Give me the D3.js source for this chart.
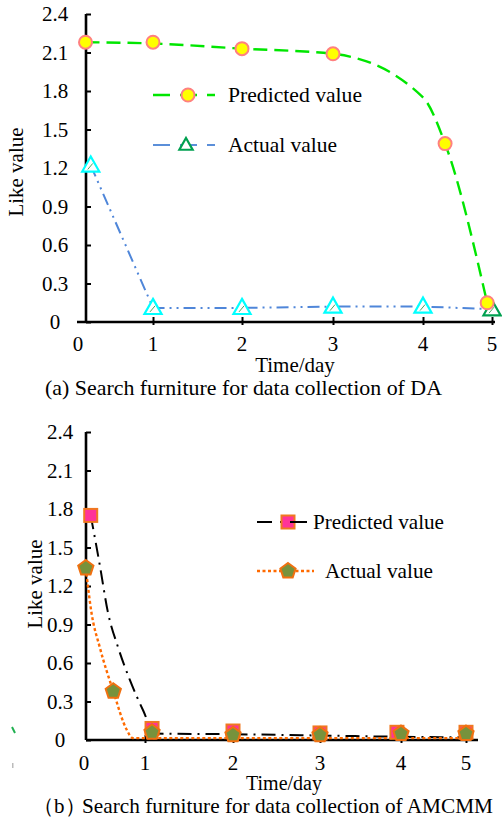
<!DOCTYPE html>
<html><head><meta charset="utf-8">
<script src="https://cdn.jsdelivr.net/npm/d3@7"></script>
<style>html,body{margin:0;padding:0;background:#fff;}svg{display:block;}</style>
</head><body>
<script>
// ---------- data ----------
const dayTicks = [0, 1, 2, 3, 4, 5];
const valueTicks = [0, 0.3, 0.6, 0.9, 1.2, 1.5, 1.8, 2.1, 2.4];
const valueTickLabels = ["0", "0.3", "0.6", "0.9", "1.2", "1.5", "1.8", "2.1", "2.4"];

// (a) DA
const aPredX = [0.1, 1, 2, 3, 4.32, 4.93];
const aPredY = [2.18, 2.18, 2.13, 2.09, 1.39, 0.15];
const aPredLineX = [0.1, 1, 2, 3, 4, 4.32, 4.93];
const aPredLineY = [2.18, 2.17, 2.13, 2.09, 1.75, 1.39, 0.15];
const aActX = [0.17, 1, 2, 3, 4, 5];
const aActY = [1.22, 0.11, 0.11, 0.12, 0.12, 0.1];

// (b) AMCMM
const bPredX = [0.11, 1.08, 2, 3, 3.95, 5];
const bPredY = [1.75, 0.09, 0.07, 0.055, 0.06, 0.06];
const bPredLineX = [0.11, 0.26, 0.39, 0.56, 0.75, 0.97, 1.11, 2, 3, 4, 5];
const bPredLineY = [1.75, 1.36, 1.0, 0.72, 0.47, 0.23, 0.05, 0.045, 0.035, 0.025, 0.02];
const bActX = [0.03, 0.48, 1.08, 2, 3, 4, 5];
const bActY = [1.34, 0.38, 0.06, 0.04, 0.04, 0.05, 0.05];
const bActLineX = [0.03, 0.12, 0.26, 0.48, 0.7, 0.8, 5];
const bActLineY = [1.34, 1.0, 0.72, 0.38, 0.08, 0.015, 0.015];

const seriesNames = ["Predicted value", "Actual value"];
const xTitle = "Time/day";
const yTitle = "Like value";
const captionA = "(a) Search furniture for data collection of DA";
const captionBLabel = "（b）";
const captionBText = "Search furniture for data collection of AMCMM";

// ---------- drawing ----------
const FONT = "'Liberation Serif','Times New Roman',serif";
const svg = d3.select("body").append("svg").attr("width", 502).attr("height", 820)
  .style("font-family", FONT);

function zip(xs, ys) { return xs.map((x, i) => [x, ys[i]]); }

function drawFrame(g, x, y, o) {
  const yAx = g.append("g").attr("transform", `translate(${o.yAxisX},0)`)
    .call(d3.axisRight(y).tickValues(valueTicks).tickSize(5).tickFormat(""));
  yAx.select(".domain").remove();
  yAx.selectAll(".tick line").attr("stroke", "#000").attr("stroke-width", 2);
  g.append("line").attr("x1", o.yAxisX).attr("x2", o.yAxisX)
    .attr("y1", y(2.4)).attr("y2", y(0)).attr("stroke", "#000").attr("stroke-width", 2.6);
  g.selectAll(".ylab").data(valueTicks).join("text").attr("class", "ylab")
    .attr("x", o.yLabX).attr("y", d => y(d) + 7).attr("text-anchor", "middle")
    .attr("font-size", 21).text((d, i) => valueTickLabels[i]);
  g.append("line").attr("x1", o.xAxisStart).attr("x2", o.xAxisEnd)
    .attr("y1", y(0)).attr("y2", y(0)).attr("stroke", "#000").attr("stroke-width", 2.6);
  const xAx = g.append("g").attr("transform", `translate(0,${y(0) + 3})`)
    .call(d3.axisTop(x).tickValues(dayTicks.slice(1)).tickSize(8).tickFormat(""));
  xAx.select(".domain").remove();
  xAx.selectAll(".tick line").attr("stroke", "#000").attr("stroke-width", 2);
  g.selectAll(".xlab").data(dayTicks).join("text").attr("class", "xlab")
    .attr("x", d => x(d)).attr("y", y(0) + o.xLabDy).attr("text-anchor", "middle")
    .attr("font-size", 21).text(d => d);
  g.append("text").attr("x", o.xTitleX).attr("y", y(0) + o.xTitleDy).attr("text-anchor", "middle")
    .attr("font-size", o.xTitleSize).text(xTitle);
  g.append("text").attr("transform", `translate(${o.yTitleX},${o.yTitleY}) rotate(-90)`)
    .attr("text-anchor", "middle").attr("font-size", 21).text(yTitle);
}

function triPath(s) { return `M0,${-s}L${s * 0.95},${s * 0.68}L${-s * 0.95},${s * 0.68}Z`; }

// ---- chart (a) ----
{
  const g = svg.append("g");
  const x = d3.scaleLinear().domain(dayTicks).range([78, 153, 242, 333, 423, 492]);
  const y = d3.scaleLinear().domain([0, 2.4]).range([322, 14]);
  drawFrame(g, x, y, {yAxisX: 86, yLabX: 55, xAxisStart: 77, xAxisEnd: 495, xLabDy: 29,
    xTitleX: 295, xTitleDy: 50, xTitleSize: 21, yTitleX: 23, yTitleY: 172});

  const lin = d3.line().x(d => x(d[0])).y(d => y(d[1]));
  g.append("path").attr("d", lin(zip(aActX, aActY))).attr("fill", "none")
    .attr("stroke", "#4f86d9").attr("stroke-width", 2).attr("stroke-dasharray", "12,5,2,5,2,5");
  const smooth = d3.line().curve(d3.curveMonotoneX).x(d => x(d[0])).y(d => y(d[1]));
  g.append("path").attr("d", smooth(zip(aPredLineX, aPredLineY))).attr("fill", "none")
    .attr("stroke", "#00e600").attr("stroke-width", 2.4).attr("stroke-dasharray", "14,7");

  const tri = g.selectAll(".tri").data(zip(aActX, aActY)).join("g")
    .attr("transform", d => `translate(${x(d[0])},${y(d[1])})`);
  tri.append("path").attr("d", triPath(9)).attr("fill", "#fff")
    .attr("stroke", (d, i) => i === aActX.length - 1 ? "#00a050" : "#00ffff").attr("stroke-width", 2.2);
  tri.append("path").attr("d", "M-3,4L2,-2").attr("stroke", "#4aa860").attr("stroke-width", 1);

  g.selectAll(".circ").data(zip(aPredX, aPredY)).join("circle")
    .attr("cx", d => x(d[0])).attr("cy", d => y(d[1])).attr("r", 6.5)
    .attr("fill", "#ffff00").attr("stroke", "#ff8080").attr("stroke-width", 2);

  const lg = g.append("g");
  lg.append("line").attr("x1", 153).attr("x2", 215).attr("y1", 95).attr("y2", 95)
    .attr("stroke", "#00e600").attr("stroke-width", 2.4).attr("stroke-dasharray", "17,10");
  lg.append("circle").attr("cx", 188).attr("cy", 95).attr("r", 6.5)
    .attr("fill", "#ffff00").attr("stroke", "#ff8080").attr("stroke-width", 2);
  lg.append("text").attr("x", 228).attr("y", 102).attr("font-size", 21)
    .attr("textLength", 134).attr("lengthAdjust", "spacingAndGlyphs").text(seriesNames[0]);
  lg.append("line").attr("x1", 153).attr("x2", 215).attr("y1", 145).attr("y2", 145)
    .attr("stroke", "#5b8fd9").attr("stroke-width", 2).attr("stroke-dasharray", "17,10");
  lg.append("path").attr("d", triPath(7)).attr("transform", "translate(186,145)")
    .attr("fill", "#fff").attr("stroke", "#00a050").attr("stroke-width", 2.2);
  lg.append("text").attr("x", 228).attr("y", 152).attr("font-size", 21)
    .attr("textLength", 109).attr("lengthAdjust", "spacingAndGlyphs").text(seriesNames[1]);

  g.append("text").attr("x", 45).attr("y", 395).attr("font-size", 21)
    .attr("textLength", 397).attr("lengthAdjust", "spacingAndGlyphs").text(captionA);
}

// ---- chart (b) ----
{
  const g = svg.append("g");
  const x = d3.scaleLinear().domain(dayTicks).range([84, 145, 233, 320, 401, 466]);
  const y = d3.scaleLinear().domain([0, 2.4]).range([740, 432]);
  drawFrame(g, x, y, {yAxisX: 86, yLabX: 60, xAxisStart: 86, xAxisEnd: 478, xLabDy: 30,
    xTitleX: 284, xTitleDy: 50, xTitleSize: 20, yTitleX: 42, yTitleY: 584});

  const smooth = d3.line().curve(d3.curveMonotoneX).x(d => x(d[0])).y(d => y(d[1]));
  g.append("path").attr("d", smooth(zip(bPredLineX, bPredLineY))).attr("fill", "none")
    .attr("stroke", "#000").attr("stroke-width", 2).attr("stroke-dasharray", "14,6,2,6");
  g.append("path").attr("d", smooth(zip(bActLineX, bActLineY))).attr("fill", "none")
    .attr("stroke", "#ff6a00").attr("stroke-width", 2.4).attr("stroke-dasharray", "3,2.5");

  const sq = 13;
  g.selectAll(".sq").data(zip(bPredX, bPredY)).join("rect")
    .attr("x", d => x(d[0]) - sq / 2).attr("y", d => y(d[1]) - sq / 2)
    .attr("width", sq).attr("height", sq)
    .attr("fill", "#ff3399").attr("stroke", "#f07820").attr("stroke-width", 2);
  const pentPath = (r) => {
    const pts = d3.range(5).map(i => {
      const a = -Math.PI / 2 + i * 2 * Math.PI / 5;
      return [r * Math.cos(a), r * Math.sin(a)];
    });
    return "M" + pts.map(p => p.join(",")).join("L") + "Z";
  };
  g.selectAll(".pt").data(zip(bActX, bActY)).join("path")
    .attr("d", pentPath(8)).attr("transform", d => `translate(${x(d[0])},${y(d[1])})`)
    .attr("fill", "#77923c").attr("stroke", "#f07010").attr("stroke-width", 2);

  const lg = g.append("g");
  lg.append("line").attr("x1", 257).attr("x2", 307).attr("y1", 522).attr("y2", 522)
    .attr("stroke", "#000").attr("stroke-width", 2).attr("stroke-dasharray", "15,8,3,4");
  lg.append("rect").attr("x", 288 - sq / 2).attr("y", 522 - sq / 2).attr("width", sq).attr("height", sq)
    .attr("fill", "#ff3399").attr("stroke", "#f07820").attr("stroke-width", 2);
  lg.append("line").attr("x1", 290).attr("x2", 307).attr("y1", 522).attr("y2", 522)
    .attr("stroke", "#000").attr("stroke-width", 2);
  lg.append("text").attr("x", 313).attr("y", 529).attr("font-size", 21)
    .attr("textLength", 131).attr("lengthAdjust", "spacingAndGlyphs").text(seriesNames[0]);
  lg.append("line").attr("x1", 257).attr("x2", 314).attr("y1", 571).attr("y2", 571)
    .attr("stroke", "#ff6a00").attr("stroke-width", 2.4).attr("stroke-dasharray", "3,2.5");
  lg.append("path").attr("d", pentPath(8)).attr("transform", "translate(288,571)")
    .attr("fill", "#77923c").attr("stroke", "#f07010").attr("stroke-width", 2);
  lg.append("text").attr("x", 325).attr("y", 578).attr("font-size", 21)
    .attr("textLength", 108).attr("lengthAdjust", "spacingAndGlyphs").text(seriesNames[1]);

  g.append("path").attr("d", "M12,727L15,733").attr("stroke", "#20b050").attr("stroke-width", 2);
  g.append("rect").attr("x", 12).attr("y", 763).attr("width", 1.5).attr("height", 5).attr("fill", "#bbb");

  const cap = g.append("text").attr("y", 813).attr("font-size", 21);
  cap.append("tspan").attr("x", 33).text(captionBLabel);
  cap.append("tspan").attr("x", 82).attr("textLength", 411)
    .attr("lengthAdjust", "spacingAndGlyphs").text(captionBText);
}
</script>
</body></html>
